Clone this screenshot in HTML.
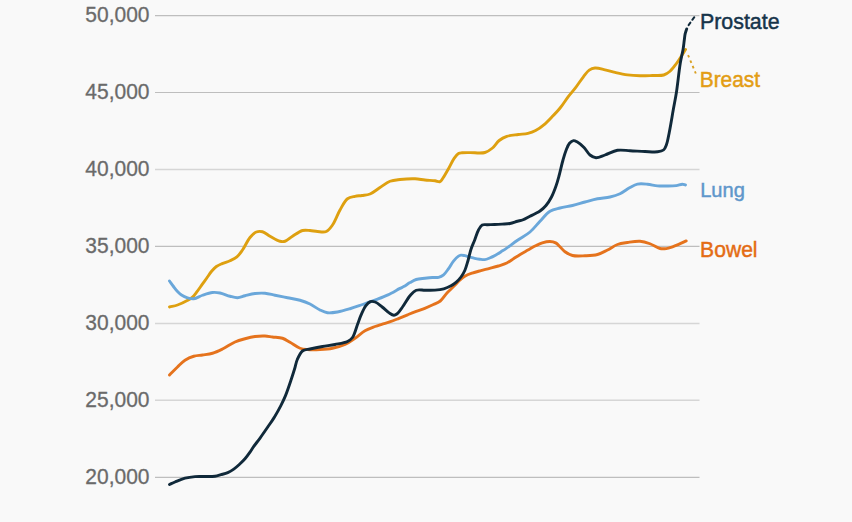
<!DOCTYPE html>
<html><head><meta charset="utf-8"><style>
html,body{margin:0;padding:0;}
body{width:852px;height:522px;overflow:hidden;background:#f9f9f9;position:relative;font-family:"Liberation Sans",sans-serif;}
svg{position:absolute;left:0;top:0;}
</style></head><body>

<svg width="852" height="522" viewBox="0 0 852 522">
<g stroke="#cbcbcb" stroke-width="1" fill="none"><line x1="155" y1="15.60" x2="699.5" y2="15.60" stroke="#bebebe" stroke-width="1.2"/><line x1="155" y1="92.50" x2="699.5" y2="92.50" stroke="#bebebe" stroke-width="1.2"/><line x1="155" y1="169.40" x2="699.5" y2="169.40" stroke="#d6d6d6" stroke-width="1.5"/><line x1="155" y1="246.40" x2="699.5" y2="246.40" stroke="#bebebe" stroke-width="1.2"/><line x1="155" y1="323.50" x2="699.5" y2="323.50" stroke="#d6d6d6" stroke-width="1.5"/><line x1="155" y1="400.20" x2="699.5" y2="400.20" stroke="#d6d6d6" stroke-width="1.5"/><line x1="155" y1="477.40" x2="699.5" y2="477.40" stroke="#bebebe" stroke-width="1.2"/></g>
<g fill="none" stroke-linecap="round" stroke-linejoin="round">
<path d="M169.50 307.00 C172.17 306.33 174.72 305.99 177.50 305.00 C180.75 303.84 184.97 301.71 187.70 300.20 C189.64 299.12 191.00 298.43 192.50 297.10 C194.20 295.59 195.66 293.40 197.20 291.40 C198.83 289.28 200.40 286.93 202.00 284.70 C203.60 282.47 205.20 280.23 206.80 278.00 C208.40 275.77 209.91 273.29 211.60 271.30 C213.13 269.50 214.62 267.79 216.40 266.50 C218.13 265.24 220.02 264.51 222.10 263.60 C224.49 262.56 227.50 261.84 230.00 260.70 C232.42 259.60 234.86 258.60 236.90 256.90 C239.06 255.09 240.60 252.72 242.50 250.00 C244.94 246.52 247.35 240.68 250.00 237.50 C252.00 235.10 254.00 232.90 256.25 232.00 C258.20 231.22 260.40 231.21 262.50 231.75 C264.98 232.38 267.29 234.76 270.00 236.25 C273.06 237.93 277.17 240.58 280.00 241.25 C281.89 241.70 283.25 241.78 285.00 241.25 C287.35 240.54 289.79 237.93 292.50 236.25 C295.57 234.35 299.30 231.36 302.50 230.50 C305.08 229.81 307.51 230.33 310.00 230.50 C312.51 230.67 314.90 231.33 317.50 231.50 C320.30 231.69 323.76 232.56 326.25 231.50 C328.78 230.42 330.52 227.80 332.50 225.00 C335.20 221.18 337.35 214.57 340.00 210.00 C342.38 205.90 344.56 200.98 347.50 198.75 C349.74 197.05 352.52 196.84 355.00 196.30 C357.35 195.79 359.60 195.86 362.00 195.50 C364.58 195.11 367.29 195.08 370.00 194.00 C373.28 192.69 376.66 189.63 380.00 187.50 C383.32 185.38 386.53 182.58 390.00 181.25 C393.22 180.02 396.32 179.91 400.00 179.50 C404.48 179.00 410.51 178.58 415.00 178.75 C418.68 178.89 421.66 179.67 425.00 180.00 C428.33 180.33 432.25 180.41 435.00 180.75 C436.96 180.99 438.65 182.10 440.00 181.60 C441.30 181.12 441.92 179.53 443.00 178.00 C444.64 175.67 446.67 171.91 448.50 168.70 C450.43 165.32 452.36 160.90 454.30 158.20 C455.70 156.25 457.02 154.46 458.50 153.60 C459.62 152.95 460.58 152.98 462.00 152.80 C464.11 152.53 466.92 152.65 470.00 152.60 C474.22 152.53 480.98 153.63 485.00 152.50 C488.07 151.64 490.20 149.90 492.50 148.00 C494.96 145.96 496.71 142.47 499.20 140.50 C501.51 138.68 503.91 137.39 506.80 136.40 C510.15 135.25 514.63 135.03 518.30 134.50 C521.64 134.02 524.91 134.02 527.90 133.30 C530.65 132.64 532.99 131.86 535.60 130.50 C538.71 128.88 542.19 126.25 545.10 123.80 C547.91 121.43 550.27 118.77 552.80 116.10 C555.41 113.35 558.02 110.59 560.50 107.50 C563.13 104.22 565.51 100.30 568.10 96.90 C570.61 93.61 573.29 90.69 575.80 87.40 C578.39 84.00 580.97 79.88 583.40 76.80 C585.40 74.26 587.06 71.57 589.20 70.10 C590.99 68.87 592.78 68.19 595.00 68.00 C597.85 67.76 601.68 69.07 605.00 69.80 C608.35 70.54 611.47 71.59 615.00 72.40 C618.92 73.30 623.32 74.34 627.50 74.90 C631.65 75.45 635.83 75.65 640.00 75.75 C644.16 75.85 648.44 75.63 652.50 75.50 C656.35 75.38 660.64 75.94 663.75 75.00 C666.25 74.25 668.05 72.92 670.00 71.25 C672.26 69.32 674.34 66.30 676.25 63.75 C678.08 61.30 679.67 58.69 681.25 56.25 C682.74 53.95 684.08 51.75 685.50 49.50" stroke="#dea010" stroke-width="2.9"/>
<path d="M169.50 281.00 C170.83 282.83 172.15 284.73 173.50 286.50 C174.81 288.22 176.10 290.04 177.50 291.50 C178.78 292.83 179.95 293.99 181.50 295.00 C183.23 296.13 185.43 297.17 187.50 297.80 C189.52 298.41 191.53 299.01 193.75 298.75 C196.46 298.44 199.46 296.27 202.50 295.25 C205.69 294.18 209.38 292.82 212.50 292.50 C215.16 292.23 217.35 292.49 220.00 293.00 C223.13 293.60 226.88 295.43 230.00 296.25 C232.66 296.95 235.01 297.83 237.50 297.75 C240.01 297.67 242.31 296.41 245.00 295.75 C248.09 294.99 251.65 293.92 255.00 293.50 C258.31 293.09 261.68 292.96 265.00 293.25 C268.35 293.54 271.48 294.55 275.00 295.25 C278.93 296.04 283.33 296.92 287.50 297.75 C291.67 298.58 296.11 299.14 300.00 300.25 C303.56 301.27 306.74 302.43 310.00 304.00 C313.41 305.65 316.84 308.49 320.00 310.00 C322.62 311.25 324.78 312.37 327.50 312.75 C330.55 313.17 334.01 312.58 337.50 312.00 C341.46 311.34 345.86 309.99 350.00 308.75 C354.19 307.49 358.24 305.98 362.50 304.50 C366.99 302.94 371.91 301.26 376.30 299.60 C380.38 298.06 384.13 296.72 388.00 294.90 C392.03 293.01 397.13 289.87 400.00 288.40 C401.57 287.59 402.33 287.37 403.70 286.60 C405.55 285.57 407.88 283.80 410.00 282.60 C412.05 281.44 413.89 280.21 416.20 279.50 C418.80 278.70 422.11 278.64 424.90 278.30 C427.49 277.98 430.02 277.67 432.40 277.50 C434.56 277.35 436.69 277.78 438.60 277.30 C440.41 276.84 442.06 276.04 443.60 274.80 C445.44 273.32 446.99 270.81 448.60 268.60 C450.30 266.26 451.74 263.27 453.50 261.10 C455.07 259.17 457.03 257.07 458.50 256.10 C459.41 255.50 460.06 255.21 461.00 255.10 C462.12 254.97 463.46 255.40 464.80 255.70 C466.34 256.04 468.06 256.65 469.70 257.10 C471.36 257.55 473.02 258.05 474.70 258.40 C476.36 258.75 478.03 259.00 479.70 259.20 C481.36 259.40 483.05 259.79 484.70 259.60 C486.39 259.41 487.97 258.70 489.70 258.00 C491.69 257.19 493.86 256.03 495.90 254.90 C497.99 253.74 500.28 252.24 502.10 251.10 C503.56 250.19 504.38 249.71 506.00 248.60 C508.84 246.67 513.56 243.03 517.50 240.30 C521.55 237.49 526.23 235.20 530.00 232.00 C533.73 228.84 536.63 224.74 540.00 221.25 C543.30 217.83 546.38 213.47 550.00 211.25 C553.12 209.34 556.45 208.93 560.00 208.00 C563.91 206.98 568.35 206.49 572.50 205.50 C576.69 204.50 580.83 203.13 585.00 202.00 C589.16 200.88 593.31 199.59 597.50 198.75 C601.64 197.92 606.10 197.90 610.00 197.00 C613.56 196.18 616.76 195.26 620.00 193.75 C623.43 192.15 626.85 189.19 630.00 187.50 C632.63 186.09 634.75 184.68 637.50 184.10 C640.53 183.46 644.18 183.90 647.50 184.20 C650.85 184.50 654.20 185.60 657.50 185.90 C660.70 186.19 663.86 186.05 667.00 186.00 C670.09 185.95 673.45 185.95 676.20 185.60 C678.48 185.31 680.69 184.29 682.40 184.30 C683.61 184.31 684.47 184.77 685.50 185.00" stroke="#6aa7da" stroke-width="2.9"/>
<path d="M169.50 375.00 C172.17 372.33 174.84 369.52 177.50 367.00 C180.01 364.62 182.25 362.05 185.00 360.25 C187.68 358.49 190.77 357.12 193.75 356.25 C196.61 355.41 199.49 355.48 202.50 355.00 C205.73 354.49 209.22 354.22 212.50 353.25 C215.89 352.25 219.03 350.70 222.50 349.00 C226.49 347.04 230.98 343.76 235.00 342.00 C238.44 340.49 241.65 339.67 245.00 338.75 C248.31 337.84 251.65 336.96 255.00 336.50 C258.31 336.05 261.91 335.87 265.00 336.00 C267.68 336.11 269.82 336.65 272.50 337.00 C275.59 337.40 279.49 337.29 282.50 338.25 C285.27 339.14 287.34 340.79 290.00 342.30 C293.11 344.06 296.80 347.08 300.00 348.25 C302.59 349.20 304.67 349.27 307.50 349.50 C311.13 349.80 315.84 349.71 320.00 349.50 C324.17 349.29 328.37 349.07 332.50 348.25 C336.71 347.42 341.17 346.23 345.00 344.50 C348.64 342.85 351.71 340.50 355.00 338.25 C358.38 335.93 361.54 332.74 365.00 330.75 C368.22 328.89 371.98 327.64 375.00 326.50 C377.44 325.58 379.32 325.05 381.70 324.30 C384.38 323.45 387.44 322.69 390.30 321.70 C393.21 320.69 396.11 319.45 399.00 318.30 C401.88 317.15 404.73 315.95 407.60 314.80 C410.46 313.65 413.33 312.49 416.20 311.40 C419.06 310.32 421.95 309.44 424.80 308.30 C427.69 307.14 430.71 305.78 433.40 304.50 C435.84 303.34 438.16 302.70 440.30 301.00 C442.82 299.00 444.84 295.35 447.20 292.80 C449.44 290.37 451.92 288.18 454.10 286.00 C456.10 284.00 457.91 281.91 459.80 280.20 C461.48 278.69 462.88 277.34 464.80 276.20 C466.95 274.92 469.61 274.01 472.20 273.10 C474.96 272.13 477.98 271.38 480.90 270.60 C483.82 269.82 486.78 269.17 489.70 268.40 C492.61 267.63 495.54 266.90 498.40 266.00 C501.24 265.10 504.22 264.27 506.80 263.00 C509.23 261.80 511.27 260.13 513.50 258.70 C515.73 257.27 517.87 255.80 520.20 254.40 C522.66 252.93 525.33 251.53 527.90 250.10 C530.47 248.67 533.09 247.04 535.60 245.80 C537.88 244.67 539.95 243.61 542.30 242.90 C544.71 242.17 547.54 241.44 549.90 241.50 C551.97 241.56 554.01 242.00 555.70 242.90 C557.37 243.78 558.53 245.41 560.00 246.80 C561.62 248.34 563.04 250.34 565.00 251.75 C567.14 253.29 569.59 254.78 572.50 255.50 C576.05 256.38 580.84 255.92 585.00 255.75 C589.17 255.58 593.64 255.53 597.50 254.50 C601.10 253.54 604.20 251.65 607.50 250.00 C610.87 248.32 614.07 245.75 617.50 244.50 C620.74 243.32 623.97 243.03 627.50 242.50 C631.42 241.91 636.09 240.97 640.00 241.25 C643.54 241.51 646.72 242.58 650.00 243.75 C653.40 244.97 656.99 247.80 660.00 248.50 C662.25 249.03 664.15 248.87 666.20 248.60 C668.31 248.32 670.43 247.51 672.50 246.80 C674.59 246.08 676.55 245.22 678.70 244.30 C681.09 243.28 683.70 242.03 686.20 240.90" stroke="#e5731d" stroke-width="2.9"/>
<path d="M169.50 484.50 C171.33 483.67 172.88 482.88 175.00 482.00 C177.82 480.82 181.62 479.10 185.00 478.20 C188.29 477.32 191.66 476.88 195.00 476.60 C198.32 476.32 201.67 476.57 205.00 476.50 C208.33 476.43 212.12 476.60 215.00 476.20 C217.24 475.88 218.86 475.27 220.90 474.70 C223.12 474.08 225.63 473.55 227.80 472.60 C229.93 471.67 231.86 470.47 233.80 469.10 C235.87 467.64 237.90 465.75 239.80 464.00 C241.63 462.31 243.33 460.72 245.00 458.80 C246.81 456.72 248.68 454.06 250.20 451.90 C251.49 450.07 252.26 448.62 253.60 446.70 C255.35 444.21 257.70 441.34 259.90 438.30 C262.44 434.79 265.35 430.55 267.90 426.80 C270.31 423.26 272.66 419.90 274.80 416.40 C276.88 413.00 278.81 409.58 280.60 406.10 C282.37 402.65 283.89 399.53 285.50 395.60 C287.47 390.78 289.66 384.10 291.30 379.20 C292.62 375.27 293.66 371.92 294.70 368.50 C295.65 365.38 296.00 362.39 297.30 359.50 C298.66 356.47 300.43 352.51 302.80 350.80 C304.81 349.34 307.26 349.62 310.00 349.00 C313.59 348.19 318.33 347.25 322.50 346.50 C326.66 345.75 330.85 345.33 335.00 344.50 C339.18 343.66 344.39 343.02 347.50 341.50 C349.69 340.43 351.05 339.48 352.50 337.50 C354.64 334.58 355.99 328.47 357.50 324.50 C358.78 321.14 359.66 318.27 361.00 315.20 C362.38 312.04 363.88 308.19 365.70 305.80 C367.11 303.95 368.70 302.17 370.40 301.60 C371.87 301.11 373.46 301.40 375.10 302.00 C377.33 302.81 379.88 305.21 382.20 307.00 C384.58 308.84 387.02 311.48 389.20 312.90 C390.85 313.98 392.51 315.16 393.90 315.20 C394.97 315.23 395.78 314.76 396.80 314.00 C398.54 312.71 400.54 309.66 402.50 307.00 C404.90 303.74 407.41 298.71 410.00 295.75 C412.03 293.43 413.79 291.19 416.25 290.25 C418.77 289.29 421.99 290.22 425.00 290.20 C428.22 290.17 431.79 290.35 435.00 290.10 C438.02 289.86 441.01 289.56 443.75 288.80 C446.33 288.09 448.86 286.97 451.00 285.80 C452.88 284.77 454.40 283.68 456.00 282.30 C457.75 280.79 459.54 278.95 461.00 277.00 C462.48 275.02 463.71 272.94 464.80 270.50 C466.06 267.69 466.91 264.35 467.90 261.00 C468.99 257.29 469.79 252.85 471.00 249.20 C472.09 245.91 473.47 243.14 474.70 240.00 C475.97 236.74 477.03 232.68 478.50 230.00 C479.62 227.95 480.64 225.85 482.20 225.00 C483.60 224.24 485.37 224.78 487.20 224.70 C489.42 224.60 492.13 224.60 494.60 224.50 C497.09 224.40 499.57 224.26 502.10 224.10 C504.70 223.93 507.43 223.98 510.00 223.50 C512.56 223.02 515.25 221.87 517.50 221.25 C519.33 220.75 520.70 220.66 522.50 220.00 C524.79 219.15 527.75 217.37 530.00 216.25 C531.84 215.33 533.34 214.62 535.00 213.75 C536.68 212.87 538.33 212.20 540.00 211.00 C541.99 209.57 544.17 207.67 546.00 205.50 C548.04 203.08 549.88 200.10 551.50 197.00 C553.25 193.64 554.72 189.61 556.00 186.00 C557.20 182.62 557.97 179.74 559.00 176.00 C560.29 171.30 561.69 164.62 563.00 160.00 C564.02 156.41 564.84 153.41 566.00 150.50 C567.04 147.89 568.02 145.00 569.50 143.30 C570.65 141.98 572.17 140.78 573.50 140.60 C574.67 140.45 575.71 141.08 577.00 141.80 C579.02 142.92 581.86 145.34 584.00 147.50 C586.21 149.73 587.78 153.25 590.00 155.00 C591.85 156.45 593.77 157.65 596.00 157.80 C598.67 157.98 601.77 156.11 605.00 155.00 C608.84 153.68 613.26 151.00 617.50 150.30 C621.60 149.62 625.64 150.51 630.00 150.70 C634.77 150.90 640.23 151.32 645.00 151.50 C649.36 151.67 654.12 152.25 657.50 151.80 C659.89 151.48 662.00 151.22 663.50 150.00 C665.00 148.78 665.64 146.77 666.50 144.50 C667.72 141.28 668.34 136.95 669.30 132.20 C670.61 125.72 672.13 116.16 673.40 109.10 C674.47 103.11 675.41 98.84 676.40 92.50 C677.72 84.08 678.97 70.97 680.30 63.00 C681.22 57.52 682.41 53.35 683.10 49.20 C683.66 45.83 683.92 42.79 684.30 40.00 C684.62 37.67 684.75 35.55 685.20 33.60 C685.59 31.89 686.20 30.47 686.70 28.90" stroke="#10293a" stroke-width="2.9"/>

</g>

<path d="M688.6 25.1 L690.4 22.6 M692.3 19.8 L694.3 17.2" fill="none" stroke="#10293a" stroke-width="2" stroke-linecap="round"/>
<path d="M685.9 49.9 L695.8 73.5" fill="none" stroke="#d9a021" stroke-width="1.9" stroke-dasharray="0 5.6 2.6 3.3 2.6 3.3 2.6 3.3 2.6 20"/>
<g font-family="Liberation Sans, sans-serif" font-size="21" fill="#6a6a6a" stroke="#6c6c6c" stroke-width="0.3" text-anchor="end"><text transform="translate(149.5 21.6) scale(1 1.04)">50,000</text><text transform="translate(149.5 98.6) scale(1 1.04)">45,000</text><text transform="translate(149.5 175.6) scale(1 1.04)">40,000</text><text transform="translate(149.5 252.6) scale(1 1.04)">35,000</text><text transform="translate(149.5 329.6) scale(1 1.04)">30,000</text><text transform="translate(149.5 406.6) scale(1 1.04)">25,000</text><text transform="translate(149.5 483.6) scale(1 1.04)">20,000</text></g><g font-family="Liberation Sans, sans-serif" stroke-width="0.45">
<text transform="translate(699.9 29.0) scale(1 0.99)" font-size="21.4" fill="#16344a" stroke="#16344a">Prostate</text>
<text transform="translate(699.7 86.9) scale(1 1.06)" font-size="20.9" fill="#e39d14" stroke="#e39d14">Breast</text>
<text transform="translate(700.2 197.4) scale(1 1.05)" font-size="20.1" fill="#5f97cb" stroke="#5f97cb">Lung</text>
<text transform="translate(700.1 256.5) scale(1 1.07)" font-size="21.1" fill="#e46c14" stroke="#e46c14">Bowel</text>
</g>
</svg>

</body></html>
